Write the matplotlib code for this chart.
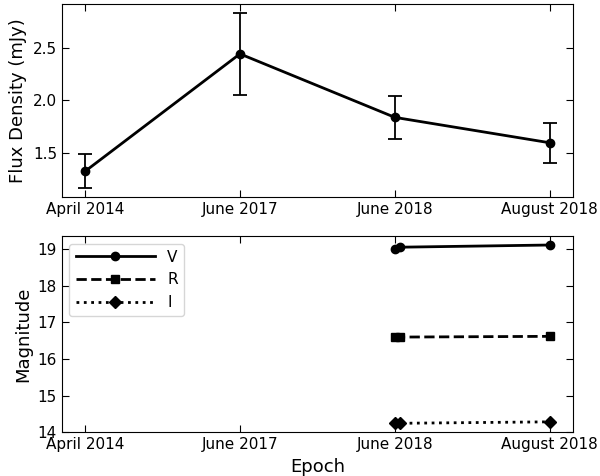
import numpy as np
import matplotlib.pyplot as plt

# Epoch labels (categorical positions)
epochs = ["April 2014", "June 2017", "June 2018", "August 2018"]

# Radio flux density (mJy) and errors
flux = [1.33, 2.44, 1.84, 1.60]
flux_err = [0.16, 0.39, 0.20, 0.19]

# Optical magnitudes: two June 2018 visits plus August 2018
mag_x = [2.0, 2.03, 3.0]
mag_v = [19.02, 19.06, 19.12]
mag_r = [16.59, 16.60, 16.62]
mag_i = [14.24, 14.24, 14.28]

fig = plt.figure(figsize=(6, 4.76), dpi=100)
ax1 = fig.add_axes([0.103, 0.586, 0.852, 0.406])
ax2 = fig.add_axes([0.103, 0.092, 0.852, 0.412])

x = np.arange(len(epochs))

ax1.errorbar(x, flux, yerr=flux_err, color="black", marker="o", markersize=6,
             linewidth=2, capsize=5, elinewidth=1.3, capthick=1.3)
ax1.set_ylabel("Flux Density (mJy)", fontsize=13)
ax1.set_xticks(x)
ax1.set_xticklabels(epochs)
ax1.set_yticks([1.5, 2.0, 2.5])

ax2.plot(mag_x, mag_v, color="black", linestyle="-", marker="o", markersize=6,
         linewidth=2, label="V")
ax2.plot(mag_x, mag_r, color="black", linestyle="--", marker="s", markersize=6,
         linewidth=2, label="R")
ax2.plot(mag_x, mag_i, color="black", linestyle=":", marker="D", markersize=6,
         linewidth=2, label="I")
ax2.set_xlim(ax1.get_xlim())
ax2.set_xticks(x)
ax2.set_xticklabels(epochs)
ax2.set_ylabel("Magnitude", fontsize=13)
ax2.set_xlabel("Epoch", fontsize=13)
ax2.legend(loc="upper left", fontsize=11, handlelength=5.2)

for ax in (ax1, ax2):
    ax.tick_params(direction="in", top=True, right=True, length=5, labelsize=11)

fig.savefig("out.png", dpi=100)
